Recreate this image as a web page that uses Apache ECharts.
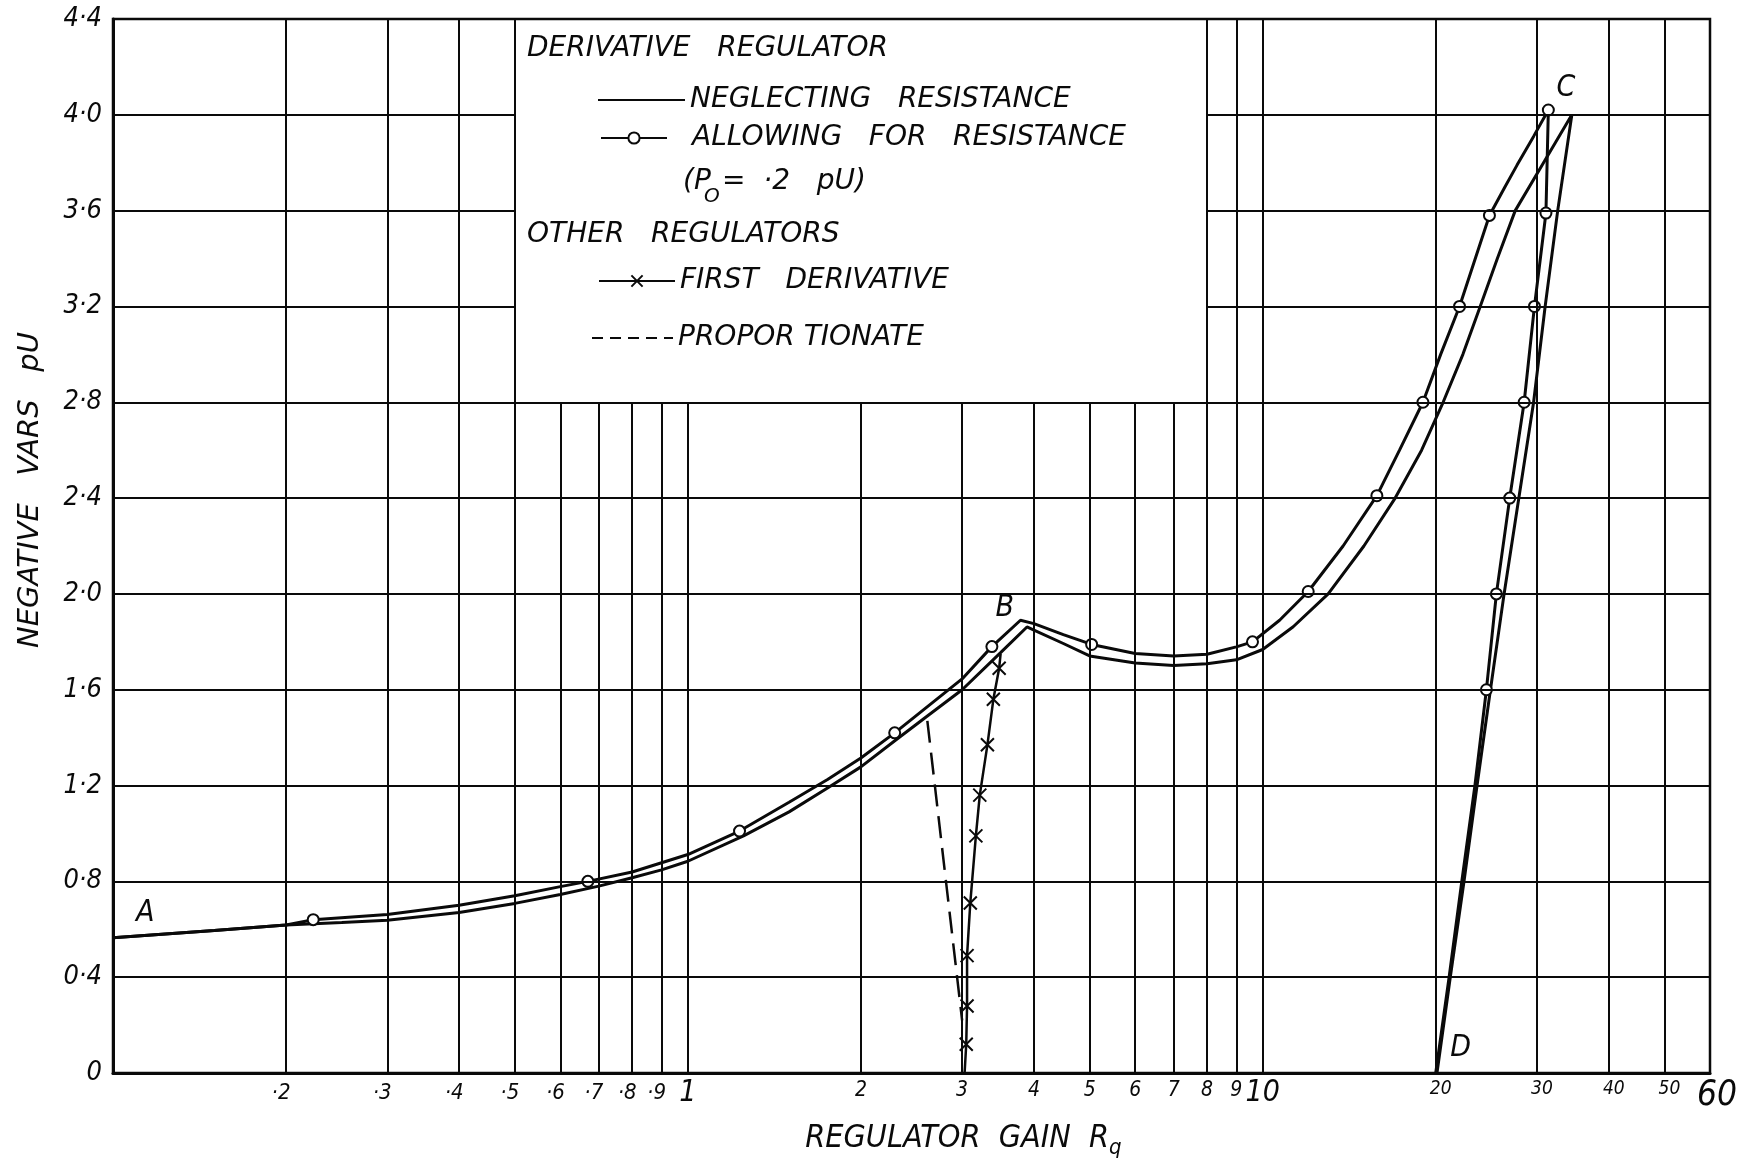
<!DOCTYPE html>
<html>
<head>
<meta charset="utf-8">
<title>Negative vars vs regulator gain</title>
<script src="https://cdn.jsdelivr.net/npm/echarts@6/dist/echarts.min.js"></script>
<style>
  html, body { margin: 0; padding: 0; background: #fff; }
  #chart { width: 1741px; height: 1164px; }
</style>
</head>
<body>
<div id="chart"></div>
<script>
// ---- Axis ticks ----------------------------------------------------------
const xTickValues = [0.2, 0.3, 0.4, 0.5, 0.6, 0.7, 0.8, 0.9, 1, 2, 3, 4, 5, 6, 7, 8, 9, 10, 20, 30, 40, 50, 60];
const xTickLabels = ['·2', '·3', '·4', '·5', '·6', '·7', '·8', '·9', '1', '2', '3', '4', '5', '6', '7', '8', '9', '10', '20', '30', '40', '50', '60'];

// grid rulings (the key panel sits in the cell x 0.5..8, y 2.8..4.4)
const xGridFull = [0.2, 0.3, 0.4, 0.5, 8, 9, 10, 20, 30, 40, 50];
const xGridCut = [0.6, 0.7, 0.8, 0.9, 1, 2, 3, 4, 5, 6, 7];
const yGridFull = [0.4, 0.8, 1.2, 1.6, 2.0, 2.4, 2.8];
const yGridCut = [3.2, 3.6, 4.0];

// ---- Derivative regulator, neglecting resistance (A - B - C - D) ----------
const negX = [0.1, 0.15, 0.2, 0.25, 0.3, 0.4, 0.5, 0.6, 0.7, 0.8, 0.9, 1.0, 1.25, 1.5, 1.75, 2.0, 2.3, 2.6, 3.0, 3.5, 3.89,
  4.0, 4.5, 5, 6, 7, 8, 9, 10, 11.3, 13.0, 15.0, 17.0, 18.9, 20.6, 22.3, 23.9, 25.6, 27.5, 30.8, 34.5,
  32.6, 31.0, 29.6, 27.9, 26.3, 24.9, 23.6, 22.4, 21.2, 20.1];
const negY = [0.565, 0.595, 0.618, 0.628, 0.638, 0.67, 0.708, 0.745, 0.78, 0.815, 0.848, 0.884, 0.99, 1.09, 1.19, 1.278, 1.39, 1.487, 1.60, 1.755, 1.862,
  1.849, 1.793, 1.741, 1.712, 1.701, 1.708, 1.725, 1.768, 1.863, 2.0, 2.2, 2.4, 2.6, 2.8, 3.0, 3.2, 3.4, 3.6, 3.8, 4.0,
  3.6, 3.2, 2.8, 2.4, 2.0, 1.6, 1.2, 0.8, 0.4, 0.0];

// ---- Derivative regulator, allowing for resistance (Po = .2 pU) -----------
const allowX = [0.1, 0.15, 0.2, 0.223, 0.3, 0.4, 0.5, 0.6, 0.67, 0.8, 1.0, 1.23, 1.5, 1.75, 2.0, 2.29, 3.0, 3.38, 3.79,
  4.0, 4.5, 5.04, 6, 7, 8, 9, 9.6, 10.7, 12.0, 13.8, 15.8, 17.3, 19.0, 20.4, 22.0, 24.8, 26.4, 27.7, 29.6, 31.4,
  31.1, 29.7, 28.5, 26.9, 25.5, 24.5, 23.4, 22.2, 21.1, 20.0];
const allowY = [0.565, 0.595, 0.618, 0.64, 0.662, 0.70, 0.74, 0.778, 0.80, 0.839, 0.912, 1.01, 1.13, 1.225, 1.315, 1.42, 1.645, 1.78, 1.89,
  1.876, 1.83, 1.789, 1.751, 1.741, 1.748, 1.779, 1.80, 1.89, 2.01, 2.2, 2.41, 2.6, 2.80, 3.0, 3.2, 3.58, 3.7, 3.79, 3.91, 4.02,
  3.59, 3.2, 2.8, 2.4, 2.0, 1.6, 1.2, 0.8, 0.4, 0.0];
// 1 where a computed point is plotted as a circle
const allowMark = [0, 0, 0, 1, 0, 0, 0, 0, 1, 0, 0, 1, 0, 0, 0, 1, 0, 1, 0,
  0, 0, 1, 0, 0, 0, 0, 1, 0, 1, 0, 1, 0, 1, 0, 1, 1, 0, 0, 0, 1,
  1, 1, 1, 1, 1, 1, 0, 0, 0, 0];

// ---- Other regulators ----------------------------------------------------
const firstDerivX = [3.5, 3.48, 3.40, 3.32, 3.22, 3.17, 3.10, 3.06, 3.06, 3.05, 3.03];
const firstDerivY = [1.75, 1.69, 1.56, 1.37, 1.16, 0.99, 0.71, 0.49, 0.28, 0.12, 0.0];
const firstDerivMark = [0, 1, 1, 1, 1, 1, 1, 1, 1, 1, 0];

const propX = [2.61, 3.0];
const propY = [1.47, 0.22];

// ---- Point letters -------------------------------------------------------
const letterNames = ['A', 'B', 'C', 'D'];
const letterX = [0.1138, 3.56, 33.7, 22.1];
const letterY = [0.668, 1.94, 4.11, 0.105];

// ---- Series names --------------------------------------------------------
const S_NEG = 'NEGLECTING   RESISTANCE';
const S_ALLOW = 'ALLOWING   FOR   RESISTANCE';
const S_FD = 'FIRST   DERIVATIVE';
const S_PROP = 'PROPOR TIONATE';

const NARROW = "'Liberation Sans Narrow', 'DejaVu Sans Condensed', 'Liberation Sans', 'DejaVu Sans', sans-serif";
const WIDE = "'DejaVu Sans', 'Liberation Sans', sans-serif";
const INK = '#0a0a0a';
const X_MARK = 'path://M0 0L10 10M10 0L0 10';
const KEY_SIZE = 28;

function txt(size, extra, family) {
  return Object.assign({ fontFamily: family || NARROW, fontStyle: 'italic', fontSize: size, color: INK }, extra || {});
}
function wtxt(size, extra) { return txt(size, extra, WIDE); }

function pairs(xs, ys) { return xs.map((x, i) => [x, ys[i]]); }
function marked(xs, ys, flags) {
  return xs.map((x, i) => flags[i] ? [x, ys[i]] : { value: [x, ys[i]], symbol: 'none' });
}

// grid rulings as mark lines so they follow the log / linear scales
const gridLines = [];
xGridFull.forEach(v => gridLines.push({ xAxis: v }));
xGridCut.forEach(v => gridLines.push([{ coord: [v, 0] }, { coord: [v, 2.8] }]));
yGridFull.forEach(v => gridLines.push({ yAxis: v }));
yGridCut.forEach(v => {
  gridLines.push([{ coord: [0.1, v] }, { coord: [0.5, v] }]);
  gridLines.push([{ coord: [8, v] }, { coord: [60, v] }]);
});

function xLabel(v) {
  let idx = -1;
  for (let i = 0; i < xTickValues.length; i++) {
    if (Math.abs(Math.log10(v) - Math.log10(xTickValues[i])) < 1e-6) { idx = i; break; }
  }
  if (idx < 0) return '';
  const t = xTickLabels[idx];
  const val = xTickValues[idx];
  let style = 'unit';
  if (val < 1) style = 'dec';
  else if (val === 1 || val === 10) style = 'big';
  else if (val === 60) style = 'end';
  else if (val >= 20) style = 'tens';
  return '{' + style + '|' + t + '}';
}

function yLabel(v) {
  if (Math.abs(v) < 1e-9) return '0';
  return v.toFixed(1).replace('.', '·');
}

function legendFor(name, left, centerY, width, extra) {
  return Object.assign({
    data: [name],
    left: left, top: centerY - KEY_SIZE / 2,
    itemWidth: width, itemHeight: 14,
    selectedMode: false,
    textStyle: wtxt(KEY_SIZE),
    padding: 0
  }, extra || {});
}

const keyFont = 'italic ' + KEY_SIZE + 'px ' + WIDE;

const chart = echarts.init(document.getElementById('chart'), null, { renderer: 'canvas' });

chart.setOption({
  backgroundColor: '#fff',
  animation: false,
  grid: { left: 113, right: 31, top: 19, bottom: 81, show: true, borderColor: INK, borderWidth: 2.5, backgroundColor: 'transparent' },
  xAxis: {
    type: 'log', logBase: 10, min: 0.1, max: 60,
    axisLine: { show: true, lineStyle: { color: INK, width: 3 } },
    axisTick: { show: false },
    splitLine: { show: false },
    minorTick: { show: false },
    minorSplitLine: { show: false },
    axisLabel: {
      customValues: xTickValues,
      formatter: xLabel,
      margin: 5,
      rich: {
        dec: txt(22, { padding: [4, 10, 0, 0] }),
        unit: txt(21, { padding: [2, 0, 0, 0] }),
        big: txt(30),
        tens: txt(19, { padding: [2, 0, 0, 10] }),
        end: txt(35, { padding: [0, 0, 0, 14] })
      }
    },
    name: 'REGULATOR  GAIN  R{q|q}',
    nameLocation: 'middle',
    nameGap: 46,
    nameTextStyle: txt(32, { padding: [0, 0, 0, 104], rich: { q: txt(22, { padding: [18, 0, 0, 0] }) } })
  },
  yAxis: {
    type: 'value', min: 0, max: 4.4, interval: 0.4,
    axisLine: { show: true, lineStyle: { color: INK, width: 3 } },
    axisTick: { show: false },
    splitLine: { show: false },
    axisLabel: Object.assign(txt(27), { formatter: yLabel, margin: 11 }),
    name: 'NEGATIVE   VARS   pU',
    nameLocation: 'middle',
    nameGap: 68,
    nameTextStyle: wtxt(29, { padding: [0, 0, 0, 112] })
  },
  legend: [
    legendFor(S_NEG, 597, 100, 87, { itemStyle: { opacity: 0 } }),
    legendFor(S_ALLOW, 600, 138, 66, { textStyle: wtxt(KEY_SIZE, { padding: [0, 0, 0, 20] }) }),
    legendFor(S_FD, 598, 281, 76),
    legendFor(S_PROP, 591, 338, 81, { itemStyle: { opacity: 0 }, lineStyle: { type: [11, 7] } })
  ],
  graphic: [
    { type: 'text', x: 527, y: 49, silent: true, style: { text: 'DERIVATIVE   REGULATOR', font: keyFont, fill: INK, verticalAlign: 'middle' } },
    { type: 'text', x: 683, y: 182, silent: true, style: { text: '(P', font: keyFont, fill: INK, verticalAlign: 'middle' } },
    { type: 'text', x: 704, y: 197, silent: true, style: { text: 'O', font: 'italic 20px ' + WIDE, fill: INK, verticalAlign: 'middle' } },
    { type: 'text', x: 722, y: 182, silent: true, style: { text: '=  ·2   pU)', font: keyFont, fill: INK, verticalAlign: 'middle' } },
    { type: 'text', x: 527, y: 235, silent: true, style: { text: 'OTHER   REGULATORS', font: keyFont, fill: INK, verticalAlign: 'middle' } }
  ],
  series: [
    {
      type: 'line', data: [], silent: true, z: 1,
      markLine: {
        silent: true, animation: false, symbol: ['none', 'none'],
        label: { show: false },
        emphasis: { disabled: true },
        lineStyle: { color: INK, width: 2, type: 'solid' },
        data: gridLines
      }
    },
    {
      name: S_NEG, type: 'line', z: 3, silent: true,
      data: pairs(negX, negY),
      symbol: 'none',
      lineStyle: { color: INK, width: 3 },
      itemStyle: { color: INK },
      emphasis: { disabled: true }
    },
    {
      name: S_ALLOW, type: 'line', z: 4, silent: true,
      data: marked(allowX, allowY, allowMark),
      symbol: 'emptyCircle', symbolSize: 11, showAllSymbol: true,
      lineStyle: { color: INK, width: 3 },
      itemStyle: { color: INK, borderColor: INK, borderWidth: 2 },
      emphasis: { disabled: true }
    },
    {
      name: S_FD, type: 'line', z: 4, silent: true,
      data: marked(firstDerivX, firstDerivY, firstDerivMark),
      symbol: X_MARK, symbolSize: 13, showAllSymbol: true,
      lineStyle: { color: INK, width: 2.5 },
      itemStyle: { color: INK, borderColor: INK, borderWidth: 2 },
      emphasis: { disabled: true }
    },
    {
      name: S_PROP, type: 'line', z: 3, silent: true,
      data: pairs(propX, propY),
      symbol: 'none',
      lineStyle: { color: INK, width: 2.5, type: [22, 10] },
      itemStyle: { color: INK },
      emphasis: { disabled: true }
    },
    {
      type: 'scatter', z: 5, silent: true,
      data: letterNames.map((n, i) => [letterX[i], letterY[i], n]),
      symbolSize: 1,
      itemStyle: { color: '#fff', opacity: 1 },
      label: Object.assign(txt(30), {
        show: true, position: 'inside', formatter: p => p.data[2],
        textBorderWidth: 0, textBorderColor: 'transparent', opacity: 1
      }),
      emphasis: { disabled: true }
    }
  ]
});
</script>
</body>
</html>
